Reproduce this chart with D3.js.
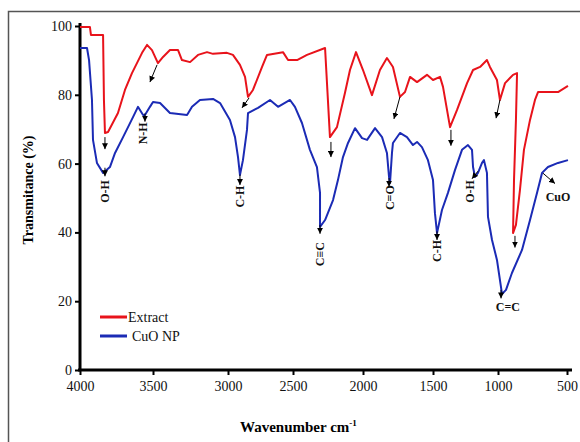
<!DOCTYPE html>
<html>
<head>
<meta charset="utf-8">
<script src="https://cdn.jsdelivr.net/npm/d3@7"></script>
<style>
body { margin: 0; background: #fff; }
text { font-family: "Liberation Serif", "DejaVu Serif", serif; }
</style>
</head>
<body>
<div class="myChart"></div>
<script>
//Data - Extract spectrum
var extractWave = [4000,3932,3925,3842,3836,3829,3808,3740,3692,3644,3575,3541,3507,3467,3433,3387,3333,3307,3253,3200,3140,3100,3007,2962,2908,2869,2846,2808,2738,2700,2577,2538,2471,2400,2271,2236,2186,2129,2093,2050,2000,1936,1879,1829,1786,1736,1700,1664,1614,1543,1500,1446,1423,1369,1315,1238,1192,1138,1085,1062,1008,986,949,891,862,870,884,891,870,841,812,768,732,710,565,493];
var extractT = [99.7,99.7,97.4,97.4,78.5,68.9,69.2,74.7,81.4,86.3,92.2,94.5,93.0,89.2,91.0,93.0,93.0,90.1,89.5,91.6,92.4,91.9,92.2,91.6,88.7,85.2,79.4,81.4,88.1,91.6,92.4,90.1,90.1,91.6,93.6,67.7,70.6,80.5,87.2,92.4,87.2,79.9,87.2,90.7,88.1,79.4,80.8,85.2,83.7,85.8,84.3,85.2,82.3,70.6,75.6,83.4,87.2,88.1,90.1,88.1,84.3,78.5,83.4,85.8,86.3,72.7,55.2,39.8,42.2,52.3,64.0,72.7,78.5,80.8,80.8,82.6];

//Data - CuO NP spectrum
var cuoWave = [4000,3952,3938,3918,3911,3884,3842,3795,3760,3705,3637,3603,3568,3555,3521,3500,3453,3387,3273,3240,3187,3100,3053,2985,2946,2923,2908,2885,2854,2846,2769,2677,2615,2523,2486,2436,2379,2329,2307,2307,2271,2214,2179,2143,2107,2057,2007,1971,1914,1864,1829,1814,1807,1793,1786,1736,1686,1643,1614,1579,1536,1500,1485,1469,1431,1385,1331,1277,1231,1200,1192,1177,1154,1123,1108,1085,1077,1046,1008,971,942,899,826,768,717,681,638,565,493];
var cuoT = [93.6,93.6,90.1,78.5,66.9,60.2,57.3,59.0,63.1,67.7,73.5,76.5,74.1,74.1,76.5,77.9,77.6,74.7,74.1,76.5,78.5,78.8,77.6,72.7,67.7,61.9,56.7,61.0,69.8,74.7,76.2,78.5,76.5,78.5,76.5,71.8,64.0,59.0,51.5,41.6,43.6,49.4,55.2,61.9,66.0,70.3,67.4,66.9,70.3,67.7,63.1,56.1,54.4,63.1,66.0,68.9,67.7,65.4,66.3,64.8,61.0,55.2,45.6,39.8,46.5,51.5,58.1,64.0,65.4,64.0,59.0,56.1,57.3,60.2,61.0,57.3,44.5,37.8,32.0,22.1,23.3,28.2,34.9,43.6,51.5,57.3,59.0,60.2,61.0];

//Ticks (the printed axis is not evenly spaced)
var xTicks = [4000,3500,3000,2500,2000,1500,1000,500];
var xTickPos = [80,153,228,293,363,433,498,567];
var yTicks = [0,20,40,60,80,100];

//Annotations (wavenumber, transmittance)
var redArrows = [[3829,67.7,3829,64.2],[3473,88.7,3521,83.7],[2838,79.1,2892,76.2],[2229,66.3,2229,61.9],[1736,79.4,1779,73.0],[1362,69.8,1362,65.2],[986,78.5,1015,73.2],[877,39.0,877,35.6]];
var blueArrows = [[3829,58.8,3829,56.3],[3555,74.6,3555,72.2],[2908,56.8,2908,53.8],[2307,42.2,2307,39.6],[1814,55.8,1814,53.3],[1469,40.3,1469,37.8],[1154,57.8,1200,55.6],[978,23.3,978,20.8],[674,57.2,587,54.2]];
var bandNames = ["O-H","N-H","C-H","C\u2261C","C=O","C-H","O-H","C=C","CuO"];
var bandWave = [3829,3568,2908,2307,1807,1469,1215,928,565];
var bandT = [51.9,68.8,50.4,33.7,50.1,34.6,51.9,18.3,50.3];
var bandVertical = [true,true,true,true,true,true,true,false,false];

var seriesNames = ["Extract","CuO NP"];
var seriesColors = ["#e8131b","#1b2bb5"];

function run () {
    //Canvas Size
    var width = 580;
    var height = 442;
    var serif = "Liberation Serif, DejaVu Serif, serif";

    //Scales
    var xScale = d3.scaleLinear()
        .domain(xTicks)
        .range(xTickPos);
    var yScale = d3.scaleLinear()
        .domain([0, 100])
        .range([370, 26]);

    var svg = d3.select(".myChart").append("svg")
        .attr("width", width)
        .attr("height", height)
        .style("background", "#fff");

    //Frame
    svg.append("rect")
        .attr("x", 8.5)
        .attr("y", 11.5)
        .attr("width", 620)
        .attr("height", 500)
        .attr("fill", "none")
        .attr("stroke", "#555")
        .attr("stroke-width", 1.5);

    //Arrow head
    svg.append("defs").append("marker")
        .attr("id", "head")
        .attr("viewBox", "0 0 6 6")
        .attr("refX", 6)
        .attr("refY", 3)
        .attr("markerWidth", 6)
        .attr("markerHeight", 6)
        .attr("markerUnits", "userSpaceOnUse")
        .attr("orient", "auto")
        .append("path")
        .attr("d", "M0,0 L6,3 L0,6 Z")
        .attr("fill", "#000");

    //Axis
    var xAxis = d3.axisBottom(xScale)
        .tickValues(xTicks)
        .tickFormat(d3.format("d"))
        .tickSize(5)
        .tickSizeOuter(0)
        .tickPadding(6);
    var yAxis = d3.axisLeft(yScale)
        .tickValues(yTicks)
        .tickFormat(d3.format("d"))
        .tickSize(5)
        .tickSizeOuter(0)
        .tickPadding(3);

    var gx = svg.append("g")
        .attr("transform", "translate(0," + yScale(0) + ")")
        .call(xAxis);
    var gy = svg.append("g")
        .attr("transform", "translate(" + xScale(4000) + ",0)")
        .call(yAxis);

    gx.select(".domain").attr("stroke-width", 3).attr("d", "M78,0H572");
    gy.select(".domain").attr("stroke-width", 3).attr("d", "M0,23V371");
    svg.selectAll(".tick line").attr("stroke-width", 2);
    svg.selectAll("g").attr("font-family", serif);
    svg.selectAll(".tick text")
        .attr("font-size", 14)
        .attr("fill", "#111");

    //Spectra
    var line = d3.line()
        .x(function(d) {return xScale(d[0]);})
        .y(function(d) {return yScale(d[1]);});

    var extractData = extractWave.map(function(w, i) {return [w, extractT[i]];});
    var cuoData = cuoWave.map(function(w, i) {return [w, cuoT[i]];});

    [extractData, cuoData].forEach(function(data, i) {
        svg.append("path")
            .datum(data)
            .attr("d", line)
            .attr("fill", "none")
            .attr("stroke", seriesColors[i])
            .attr("stroke-width", 2)
            .attr("stroke-linejoin", "round");
    });

    //Arrows
    svg.selectAll("line.arrow")
        .data(redArrows.concat(blueArrows))
        .enter()
        .append("line")
        .attr("class", "arrow")
        .attr("x1", function(d) {return xScale(d[0]);})
        .attr("y1", function(d) {return yScale(d[1]);})
        .attr("x2", function(d) {return xScale(d[2]);})
        .attr("y2", function(d) {return yScale(d[3]);})
        .attr("stroke", "#000")
        .attr("stroke-width", 1)
        .attr("marker-end", "url(#head)");

    //Band labels
    svg.selectAll("text.band")
        .data(bandNames)
        .enter()
        .append("text")
        .attr("class", "band")
        .attr("transform", function(d, i) {
            var t = "translate(" + xScale(bandWave[i]) + "," + yScale(bandT[i]) + ")";
            return bandVertical[i] ? t + " rotate(-90)" : t;
        })
        .attr("text-anchor", "middle")
        .attr("dominant-baseline", "central")
        .attr("font-family", serif)
        .attr("font-size", 12)
        .attr("font-weight", "bold")
        .attr("fill", "#111")
        .text(function(d) {return d;});

    //Legend
    var legend = svg.append("g").attr("transform", "translate(100,317)");
    seriesNames.forEach(function(name, i) {
        legend.append("line")
            .attr("x1", 0).attr("x2", 27)
            .attr("y1", i * 19).attr("y2", i * 19)
            .attr("stroke", seriesColors[i])
            .attr("stroke-width", 3);
        legend.append("text")
            .attr("x", i == 0 ? 28 : 32)
            .attr("y", i * 19)
            .attr("dominant-baseline", "central")
            .attr("font-family", serif)
            .attr("font-size", 14)
            .attr("fill", "#111")
            .text(name);
    });

    //Axis titles
    svg.append("text")
        .attr("transform", "translate(28,190) rotate(-90)")
        .attr("text-anchor", "middle")
        .attr("dominant-baseline", "central")
        .attr("font-family", serif)
        .attr("font-size", 14)
        .attr("font-weight", "bold")
        .text("Transmitance (%)");

    var xt = svg.append("text")
        .attr("x", 240)
        .attr("y", 432)
        .attr("font-family", serif)
        .attr("font-size", 15)
        .attr("font-weight", "bold")
        .text("Wavenumber cm");
    xt.append("tspan")
        .attr("font-size", 9)
        .attr("dy", -6)
        .text("-1");
}

run();
</script>
</body>
</html>
